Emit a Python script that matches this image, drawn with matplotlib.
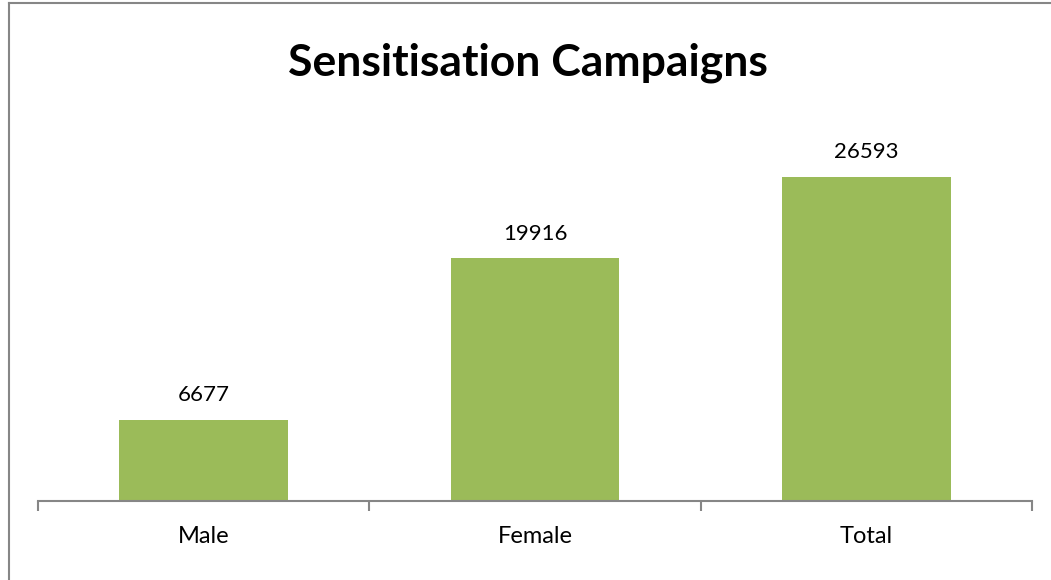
import matplotlib
matplotlib.use("Agg")
import matplotlib.pyplot as plt
from matplotlib.lines import Line2D
import numpy as np

categories = ["Male", "Female", "Total"]
values = [6677, 19916, 26593]

bar_color = "#9BBB59"
axis_color = "#868686"

plt.rcParams["font.family"] = ["Lato", "DejaVu Sans"]

fig = plt.figure(figsize=(10.51, 5.8), dpi=100)
ax = fig.add_axes([38 / 1051, 79 / 580, 994 / 1051, 365.5 / 580])

x = np.arange(len(categories))
bars = ax.bar(x, values, width=0.51, color=bar_color, zorder=2)
ax.set_xlim(-0.5, len(categories) - 0.5)
ax.set_ylim(0, 30000)

for rect, v in zip(bars, values):
    ax.annotate(str(v), (rect.get_x() + rect.get_width() / 2, v),
                xytext=(0, 10.5), textcoords="offset points",
                ha="center", va="bottom", fontsize=16, color="black")

# category labels at bar centres, tick marks at category boundaries
ax.set_xticks(x)
ax.set_xticklabels(categories, fontsize=17)
ax.tick_params(axis="x", which="major", length=0, pad=18)
ax.set_xticks(np.arange(len(categories) + 1) - 0.5, minor=True)
ax.tick_params(axis="x", which="minor", length=7, width=1.5,
               color=axis_color, direction="out")
ax.set_yticks([])

for side in ["top", "right", "left"]:
    ax.spines[side].set_visible(False)
ax.spines["bottom"].set_color(axis_color)
ax.spines["bottom"].set_linewidth(1.5)

fig.text(528 / 1051, 1 - 63 / 580, "Sensitisation Campaigns",
         ha="center", va="center", fontsize=32, fontweight="bold")

# outer chart border (partly cropped in the original)
fig.add_artist(Line2D([9 / 1051, 9 / 1051], [0, 1 - 3 / 580],
                      transform=fig.transFigure, color=axis_color, lw=1.5))
fig.add_artist(Line2D([9 / 1051, 1], [1 - 3 / 580, 1 - 3 / 580],
                      transform=fig.transFigure, color=axis_color, lw=1.5))

fig.savefig("out.png", dpi=100)
